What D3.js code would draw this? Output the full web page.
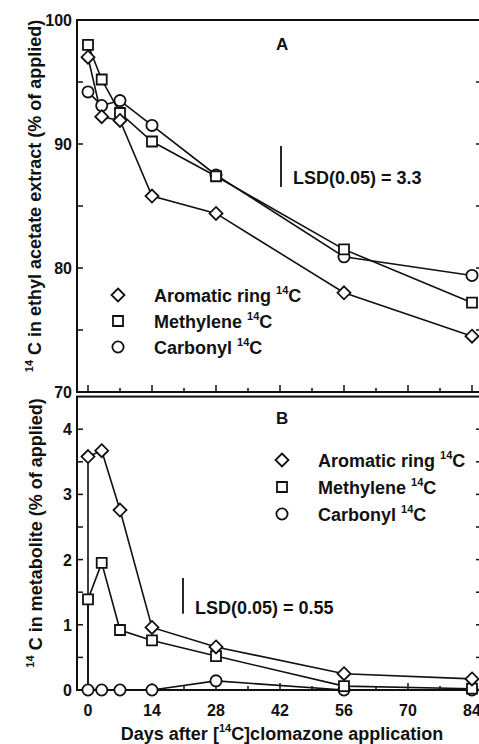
<!DOCTYPE html>
<html>
<head>
<meta charset="utf-8">
<script src="https://cdn.jsdelivr.net/npm/d3@7"></script>
<style>
  body { margin: 0; background: #fff; }
  text { font-family: "Liberation Sans", Arial, sans-serif; fill: #111; }
</style>
</head>
<body>
<div id="vis"></div>
<script>
// data
const days = [0, 3, 7, 14, 28, 56, 84];
const xTicks = [0, 14, 28, 42, 56, 70, 84];

// panel A: 14C in ethyl acetate extract
const aromaticA = [97.0, 92.2, 91.9, 85.8, 84.4, 78.0, 74.5];
const methyleneA = [98.0, 95.2, 92.5, 90.2, 87.4, 81.5, 77.2];
const carbonylA = [94.2, 93.1, 93.5, 91.5, 87.5, 80.9, 79.4];

// panel B: 14C in metabolite (lines start from 0 at day 0)
const aromaticB = [3.58, 3.67, 2.76, 0.96, 0.66, 0.25, 0.17];
const methyleneB = [1.39, 1.95, 0.92, 0.76, 0.52, 0.06, 0.02];
const carbonylB = [0, 0, 0, 0, 0.14, 0, 0];

const seriesNames = ["Aromatic ring", "Methylene", "Carbonyl"];
const symbols = ["diamond", "square", "circle"];

const width = 479, height = 744;
const left = 77, right = 482;

const svg = d3.select("#vis").append("svg")
  .attr("width", width).attr("height", height);

const x = d3.scaleLinear().domain([0, 84]).range([88, 472]);

const yA = d3.scaleLinear().domain([70, 100]).range([392, 20]);
const yB = d3.scaleLinear().domain([0, 4.5]).range([690, 396.6]);

function drawMarker(g, type, cx, cy) {
  const s = g.append("path")
    .attr("fill", "#fff").attr("stroke", "#111").attr("stroke-width", 1.8);
  if (type === "diamond") {
    s.attr("d", `M${cx},${cy - 6.5}L${cx + 6.5},${cy}L${cx},${cy + 6.5}L${cx - 6.5},${cy}Z`);
  } else if (type === "square") {
    s.attr("d", `M${cx - 5},${cy - 5}h10v10h-10Z`);
  } else {
    s.attr("d", d3.arc()({innerRadius: 0, outerRadius: 5.6, startAngle: 0, endAngle: 2 * Math.PI}))
      .attr("transform", `translate(${cx},${cy})`);
  }
  return s;
}

const line = (y) => d3.line().x(d => x(d[0])).y(d => y(d[1]));

function panel(y, top, bottom, series, startZero, opts) {
  const g = svg.append("g");
  // frame
  g.append("rect")
    .attr("x", left).attr("y", top)
    .attr("width", right - left).attr("height", bottom - top)
    .attr("fill", "none").attr("stroke", "#111").attr("stroke-width", 2);

  // y ticks (inward, left and right)
  opts.yMinor.forEach(v => {
    g.append("line").attr("x1", left).attr("x2", left + 6)
      .attr("y1", y(v)).attr("y2", y(v)).attr("stroke", "#111").attr("stroke-width", 1.5);
    g.append("line").attr("x1", right - 6).attr("x2", right)
      .attr("y1", y(v)).attr("y2", y(v)).attr("stroke", "#111").attr("stroke-width", 1.5);
  });
  opts.yLabels.forEach(v => {
    g.append("text").attr("x", left - 5).attr("y", y(v) + 6)
      .attr("text-anchor", "end").attr("font-size", 16).attr("font-weight", "bold")
      .text(v);
  });

  // x ticks (inward, bottom)
  d3.range(0, 85, 7).forEach(v => {
    g.append("line").attr("x1", x(v)).attr("x2", x(v))
      .attr("y1", bottom).attr("y2", bottom - (v % 14 === 0 ? 7 : 4))
      .attr("stroke", "#111").attr("stroke-width", 1.5);
  });

  // series
  series.forEach((vals, i) => {
    let pts = days.map((d, j) => [d, vals[j]]);
    if (startZero[i]) pts = [[0, 0]].concat(pts);
    g.append("path").attr("d", line(y)(pts))
      .attr("fill", "none").attr("stroke", "#111").attr("stroke-width", 1.6);
  });
  [2, 1, 0].forEach(i => {
    series[i].forEach((v, j) => drawMarker(g, symbols[i], x(days[j]), y(v)));
  });

  // panel letter
  g.append("text").attr("x", opts.letter[0]).attr("y", opts.letter[1])
    .attr("font-size", 17).attr("font-weight", "bold").text(opts.letterText);

  // LSD bar
  const lsd = opts.lsd;
  g.append("line").attr("x1", lsd.x).attr("x2", lsd.x)
    .attr("y1", lsd.y).attr("y2", lsd.y + (y(0) - y(lsd.value)))
    .attr("stroke", "#111").attr("stroke-width", 1.8);
  g.append("text").attr("x", lsd.x + 12).attr("y", lsd.ty)
    .attr("font-size", 18).attr("font-weight", "bold")
    .text(`LSD(0.05) = ${lsd.value}`);

  // legend
  const lg = opts.legend;
  seriesNames.forEach((n, i) => {
    const cy = lg.y + i * lg.dy;
    drawMarker(g, symbols[i], lg.x, cy);
    const t = g.append("text").attr("x", lg.tx).attr("y", cy + 7)
      .attr("font-size", 18).attr("font-weight", "bold").text(n + " ");
    t.append("tspan").attr("font-size", 11).attr("dy", -8).text("14");
    t.append("tspan").attr("dy", 8).text("C");
  });
}

panel(yA, 20, 392, [aromaticA, methyleneA, carbonylA], [false, false, false], {
  yMinor: d3.range(75, 100, 5),
  yLabels: [70, 80, 90, 100],
  letter: [276, 50], letterText: "A",
  lsd: {x: 281, y: 146, value: 3.3, ty: 184},
  legend: {x: 118, y: 295, dy: 26, tx: 154}
});

panel(yB, 396.6, 690, [aromaticB, methyleneB, carbonylB], [true, true, false], {
  yMinor: d3.range(0.5, 4.5, 0.5),
  yLabels: [0, 1, 2, 3, 4],
  letter: [276, 424], letterText: "B",
  lsd: {x: 183, y: 578, value: 0.55, ty: 614},
  legend: {x: 282, y: 460, dy: 27, tx: 318}
});

// x axis labels
xTicks.forEach(v => {
  svg.append("text").attr("x", x(v)).attr("y", 716)
    .attr("text-anchor", "middle").attr("font-size", 16).attr("font-weight", "bold")
    .text(v);
});
const xt = svg.append("text").attr("x", 282).attr("y", 740)
  .attr("text-anchor", "middle").attr("font-size", 18).attr("font-weight", "bold")
  .text("Days after [");
xt.append("tspan").attr("font-size", 11).attr("dy", -8).text("14");
xt.append("tspan").attr("dy", 8).text("C]clomazone application");

// y axis titles
function yTitle(cx, cy, main) {
  const t = svg.append("text")
    .attr("transform", `translate(${cx},${cy}) rotate(-90)`)
    .attr("text-anchor", "middle").attr("font-size", 18).attr("font-weight", "bold");
  t.append("tspan").attr("font-size", 11).attr("dy", -8).text("14");
  t.append("tspan").attr("dy", 8).text(" " + main);
}
yTitle(41, 196, "C in ethyl acetate extract  (% of applied)");
yTitle(42, 533, "C in metabolite (% of applied)");
</script>
</body>
</html>
